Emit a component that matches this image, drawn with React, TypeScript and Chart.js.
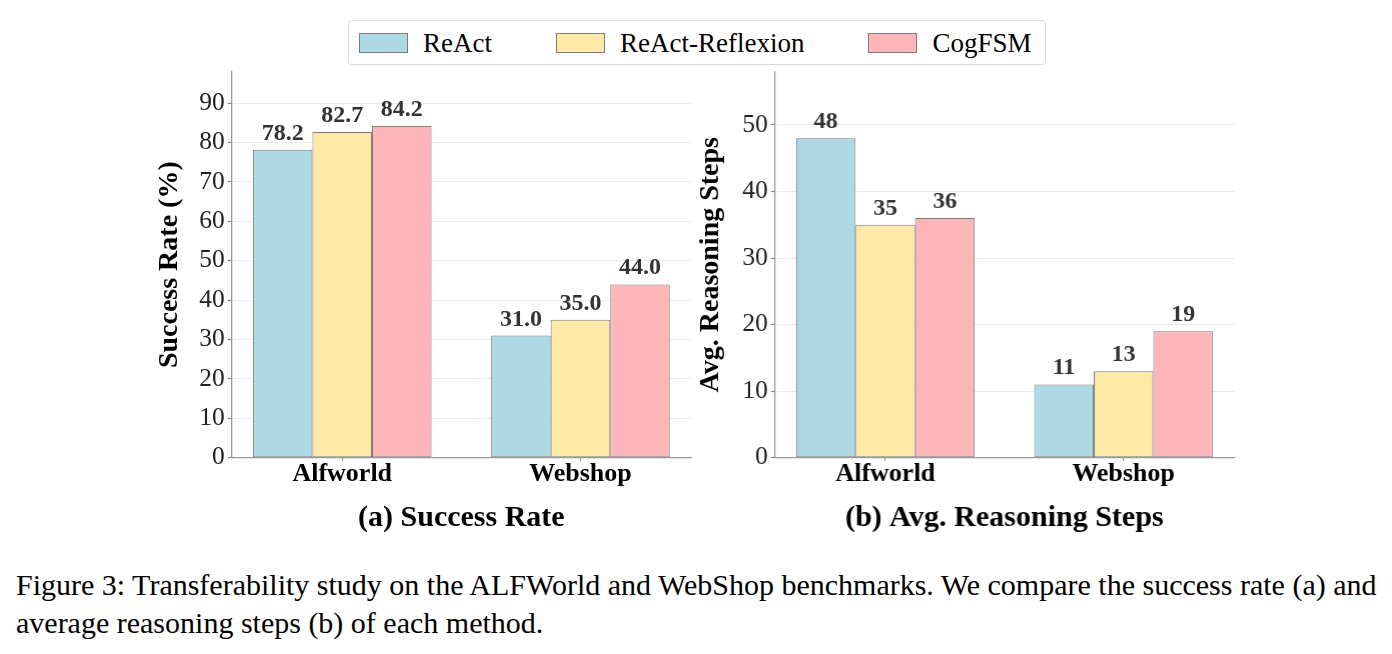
import React, { useEffect, useRef } from 'react';
import { Chart, registerables } from 'chart.js';

Chart.register(...registerables);

// ---- data ----
const categories = ['Alfworld', 'Webshop'];
const methods = ['ReAct', 'ReAct-Reflexion', 'CogFSM'];

const successReAct = [78.2, 31.0];
const successReflexion = [82.7, 35.0];
const successCogFSM = [84.2, 44.0];

const stepsReAct = [48, 11];
const stepsReflexion = [35, 13];
const stepsCogFSM = [36, 19];

const successTicks = [0, 10, 20, 30, 40, 50, 60, 70, 80, 90];
const stepsTicks = [0, 10, 20, 30, 40, 50];

const fillColors = ['#ADD8E6', '#FFE9A6', '#FFB6B9'];
const edgeColor = '#7d7d7d';
const SERIF = '"Liberation Serif", "Times New Roman", Times, serif';

// draws the numeric value above each bar
const valueLabels = {
  id: 'valueLabels',
  afterDatasetsDraw(chart: any, _args: any, opts: any) {
    const { ctx } = chart;
    ctx.save();
    ctx.font = `bold 24px ${SERIF}`;
    ctx.fillStyle = '#333333';
    ctx.textAlign = 'center';
    ctx.textBaseline = 'alphabetic';
    chart.data.datasets.forEach((ds: any, di: number) => {
      const meta = chart.getDatasetMeta(di);
      meta.data.forEach((bar: any, i: number) => {
        const v = ds.data[i].y as number;
        ctx.fillText(v.toFixed(opts.decimals ?? 0), bar.x, bar.y - 10);
      });
    });
    ctx.restore();
  },
};

type PanelProps = {
  left: number;
  width: number;
  yWidth: number;
  title: string;
  yTitle: string;
  series: number[][];
  yMax: number;
  yTicks: number[];
  decimals: number;
};

const TOP = 60;
const HEIGHT = 486;

function Panel({ left, width, yWidth, title, yTitle, series, yMax, yTicks, decimals }: PanelProps) {
  const ref = useRef<HTMLCanvasElement>(null);

  useEffect(() => {
    const chart = new Chart(ref.current as HTMLCanvasElement, {
      type: 'bar',
      data: {
        datasets: series.map((vals, k) => ({
          label: methods[k],
          data: vals.map((v, i) => ({ x: i, y: v })),
          backgroundColor: fillColors[k],
          borderColor: edgeColor,
          borderWidth: 1,
          borderSkipped: false,
          categoryPercentage: 0.75,
          barPercentage: 1,
        })),
      } as any,
      plugins: [valueLabels as any],
      options: {
        responsive: false,
        animation: false,
        devicePixelRatio: 1,
        layout: { padding: { top: 11.7, right: 19, left: 0, bottom: 0 } },
        plugins: {
          legend: { display: false },
          tooltip: { enabled: false },
          title: {
            display: true,
            text: title,
            position: 'bottom',
            fullSize: false,
            color: '#000000',
            font: { family: SERIF, size: 30, weight: 'bold', lineHeight: 1.2 },
            padding: { top: 6.3, bottom: 10 },
          },
          valueLabels: { decimals },
        } as any,
        scales: {
          x: {
            type: 'linear',
            min: -0.464,
            max: 1.464,
            offset: false,
            afterBuildTicks: (s: any) => {
              s.ticks = categories.map((_, i) => ({ value: i }));
            },
            afterFit: (s: any) => {
              s.height = 36;
              s.paddingLeft = 0;
              s.paddingRight = 0;
            },
            ticks: {
              autoSkip: false,
              maxRotation: 0,
              padding: 1,
              color: '#000000',
              font: { family: SERIF, size: 26, weight: 'bold', lineHeight: 1 },
              callback: (v: any) => categories[v as number] ?? '',
            },
            grid: {
              offset: false,
              drawOnChartArea: false,
              tickLength: 3,
              tickColor: '#888888',
              tickWidth: 1.2,
            },
            border: { color: '#9a9a9a', width: 1.3 },
          },
          y: {
            min: 0,
            max: yMax,
            afterBuildTicks: (s: any) => {
              s.ticks = yTicks.map((v) => ({ value: v }));
            },
            afterFit: (s: any) => {
              s.width = yWidth;
              s.paddingTop = 0;
              s.paddingBottom = 0;
            },
            ticks: {
              padding: 3,
              color: '#222222',
              font: { family: SERIF, size: 25.5, lineHeight: 1.2 },
            },
            grid: {
              color: '#ebebeb',
              lineWidth: 1,
              tickLength: 4,
              tickColor: '#888888',
              tickWidth: 1.2,
            },
            border: { color: '#9a9a9a', width: 1.3 },
            title: {
              display: true,
              text: yTitle,
              color: '#000000',
              font: { family: SERIF, size: 28, weight: 'bold', lineHeight: 1.2 },
              padding: { top: 13.2, bottom: 0 },
            },
          },
        },
      } as any,
    });
    return () => chart.destroy();
  }, []);

  return (
    <canvas
      ref={ref}
      width={width}
      height={HEIGHT}
      style={{ position: 'absolute', left, top: TOP, width, height: HEIGHT }}
    />
  );
}

function Legend() {
  return (
    <div
      style={{
        position: 'absolute',
        left: 348,
        top: 20,
        height: 45,
        boxSizing: 'border-box',
        border: '1px solid #dadada',
        borderRadius: 4,
        display: 'flex',
        alignItems: 'center',
        paddingLeft: 10,
        paddingRight: 13,
        fontFamily: SERIF,
        fontSize: 27,
        color: '#000',
        background: '#fff',
      }}
    >
      {methods.map((m, k) => (
        <div key={m} style={{ display: 'flex', alignItems: 'center', marginLeft: k === 0 ? 0 : 64 }}>
          <span
            style={{
              display: 'inline-block',
              width: 49,
              height: 20,
              boxSizing: 'border-box',
              background: fillColors[k],
              border: `1px solid ${edgeColor}`,
              marginRight: 15,
            }}
          />
          <span style={{ lineHeight: '30px' }}>{m}</span>
        </div>
      ))}
    </div>
  );
}

export default function App() {
  return (
    <div style={{ position: 'absolute', left: 0, top: 0, width: 1392, height: 654, background: '#fff' }}>
      <Panel
        left={140}
        width={570}
        yWidth={91.7}
        title="(a) Success Rate"
        yTitle="Success Rate (%)"
        series={[successReAct, successReflexion, successCogFSM]}
        yMax={98}
        yTicks={successTicks}
        decimals={1}
      />
      <Panel
        left={681}
        width={571.6}
        yWidth={93.7}
        title="(b) Avg. Reasoning Steps"
        yTitle="Avg. Reasoning Steps"
        series={[stepsReAct, stepsReflexion, stepsCogFSM]}
        yMax={58}
        yTicks={stepsTicks}
        decimals={0}
      />
      <Legend />
      <div
        style={{
          position: 'absolute',
          left: 16,
          top: 566,
          fontFamily: SERIF,
          fontSize: 30,
          lineHeight: '38px',
          color: '#000',
          whiteSpace: 'nowrap',
        }}
      >
        Figure 3: Transferability study on the ALFWorld and WebShop benchmarks. We compare the success rate (a) and
        <br />
        average reasoning steps (b) of each method.
      </div>
    </div>
  );
}
